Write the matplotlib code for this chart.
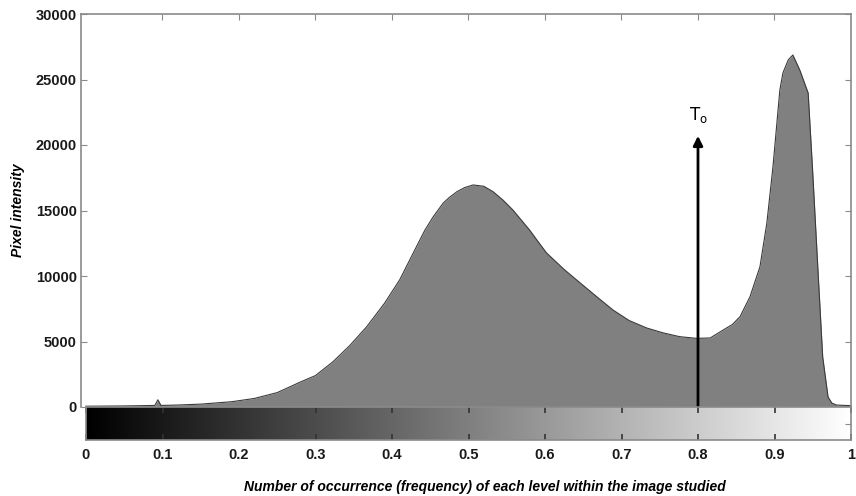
import numpy as np
import matplotlib
matplotlib.use('Agg')
import matplotlib.pyplot as plt

plt.rcParams['font.family'] = ['Liberation Sans', 'DejaVu Sans']

# histogram (level, count)
levels = [0.0, 0.05, 0.09, 0.094, 0.098, 0.12, 0.15, 0.19, 0.22, 0.25, 0.28, 0.30,
          0.323, 0.345, 0.367, 0.39, 0.41, 0.432, 0.443, 0.454, 0.467, 0.475, 0.485,
          0.495, 0.506, 0.52, 0.532, 0.545, 0.558, 0.58, 0.59, 0.602, 0.625, 0.646,
          0.668, 0.689, 0.71, 0.733, 0.755, 0.776, 0.798, 0.816, 0.833, 0.845, 0.855,
          0.868, 0.881, 0.890, 0.898, 0.907, 0.911, 0.918, 0.924, 0.933, 0.944, 0.950,
          0.957, 0.963, 0.970, 0.975, 0.981, 1.0]
counts = [60, 80, 120, 550, 120, 150, 220, 400, 650, 1100, 1900, 2400,
          3460, 4700, 6130, 7900, 9700, 12240, 13500, 14530, 15570, 16000, 16440,
          16750, 16950, 16850, 16440, 15800, 15040, 13500, 12700, 11760, 10500, 9470,
          8400, 7400, 6600, 6030, 5650, 5370, 5240, 5270, 5880, 6300, 6900,
          8420, 10710, 14040, 18340, 24200, 25500, 26500, 26870, 25730, 23970, 17860,
          10230, 3820, 760, 300, 150, 100]

T0 = 0.8
T0_top = 20700
yticks = [0, 5000, 10000, 15000, 20000, 25000, 30000]
xticks = [0, 0.1, 0.2, 0.3, 0.4, 0.5, 0.6, 0.7, 0.8, 0.9, 1]
xticklabels = ['0', '0.1', '0.2', '0.3', '0.4', '0.5', '0.6', '0.7', '0.8', '0.9', '1']

fig = plt.figure(figsize=(8.56, 4.96), dpi=100)
ax = fig.add_axes([81/856, 1 - 407/496, 770/856, 393/496])
cb = fig.add_axes([86/856, 1 - 440/496, 765/856, 33/496])

spine_col = '#8a8a8a'

ax.fill_between(levels, counts, 0, color='#808080', lw=0)
ax.plot(levels, counts, color='#3a3a3a', lw=0.8)
ax.annotate('', xy=(T0, T0_top), xytext=(T0, 0),
            arrowprops=dict(arrowstyle='-|>', color='black', lw=2, mutation_scale=14,
                            shrinkA=0, shrinkB=0))
ax.text(T0, T0_top + 1600, r'$\mathrm{T_o}$', ha='center', va='center', fontsize=12)

ax.set_xlim(-0.0065, 1.0)
ax.set_ylim(0, 30000)
ax.set_yticks(yticks)
ax.set_yticklabels([str(v) for v in yticks], fontweight='bold', fontsize=10.5)
ax.set_xticks(xticks[1:-1])
ax.tick_params(axis='x', direction='in', top=True, bottom=False, labelbottom=False,
               length=4, color=spine_col)
ax.tick_params(axis='y', direction='in', right=True, length=4, color=spine_col,
               pad=3, labelcolor='#1a1a1a')
for s in ax.spines.values():
    s.set_color(spine_col)
    s.set_linewidth(1.2)
ax.spines['bottom'].set_visible(False)
ax.set_ylabel('Pixel intensity', fontweight='bold', fontstyle='italic', fontsize=10,
              labelpad=8)

# gray level bar under the histogram
grad = np.linspace(0, 1, 256).reshape(1, -1)
cb.imshow(grad, cmap='gray', aspect='auto', extent=[0, 1, 0, 1], vmin=0, vmax=1)
cb.set_xlim(0, 1)
cb.set_ylim(0, 1)
cb.set_xticks(xticks)
cb.set_xticklabels(xticklabels, fontweight='bold', fontsize=10.5)
cb.set_yticks([0.5])
cb.tick_params(axis='y', left=False, right=True, labelleft=False, direction='in',
               length=4, color=spine_col)
cb.tick_params(axis='x', direction='in', top=True, length=4, width=1.2, color='#333333',
               pad=6, labelcolor='#1a1a1a')
for s in cb.spines.values():
    s.set_color(spine_col)
    s.set_linewidth(1.2)
cb.set_xlabel('Number of occurrence (frequency) of each level within the image studied',
              fontweight='bold', fontstyle='italic', fontsize=10)
cb.xaxis.set_label_coords((485 - 86) / 765, -1.22)

fig.savefig('out.png', dpi=100)
